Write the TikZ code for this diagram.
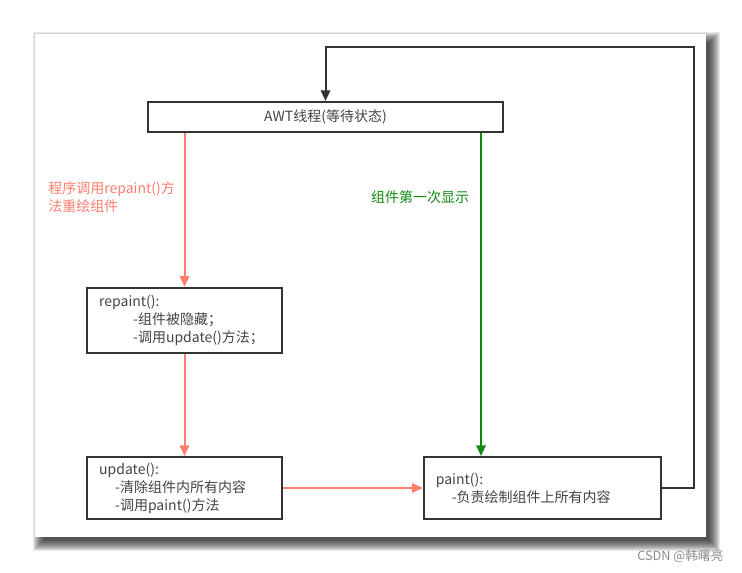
\documentclass[tikz,border=0pt]{standalone}
\usepackage{fontspec}
\setmainfont{Noto Sans CJK SC}
\usepackage{xcolor}
\usetikzlibrary{positioning,arrows.meta,calc}
\definecolor{crojo}{HTML}{FF7F6E}
\definecolor{cverde}{HTML}{118A11}
\definecolor{cnegro}{HTML}{333333}
\definecolor{ctexto}{HTML}{444444}
\tikzset{
  marco/.style={rectangle, draw=cnegro, line width=1.5pt, fill=white, align=left,
    text=ctexto, font=\fontsize{10.5pt}{13.5pt}\selectfont, inner xsep=9pt},
  flechar/.style={-{Triangle[length=8pt,width=7pt]}, line width=1.5pt, draw=crojo},
  flechav/.style={-{Triangle[length=8pt,width=7pt]}, line width=1.5pt, draw=cverde},
  flechan/.style={-{Triangle[length=8pt,width=7pt]}, line width=1.5pt, draw=cnegro},
  etqr/.style={font=\fontsize{10.5pt}{13.5pt}\selectfont, text=crojo, align=left},
  etqv/.style={font=\fontsize{10.5pt}{13.5pt}\selectfont, text=cverde},
}

\begin{document}
\begin{tikzpicture}[x=0.75pt, y=-0.75pt]
  \useasboundingbox (0,0) rectangle (742,572);
  % sombra de la hoja
  \foreach \i in {1,...,12}
    \fill[black, opacity=0.09] ({45-\i},{44-\i}) rectangle ({708+\i},{539+\i});
  \fill[white] (35,34) rectangle (706,537);

  \node[marco, align=center, minimum width=266pt, minimum height=22.5pt] (awt) at (325.5,117) {AWT线程(等待状态)};
  \node[marco, text width=128pt, minimum height=49pt] (repaint) at (184.5,320.5)
    {repaint():\\\hspace*{25.5pt}-组件被隐藏；\\\hspace*{25.5pt}-调用update()方法；};
  \node[marco, text width=128pt, minimum height=46.5pt] (update) at (184.5,488)
    {update():\\\hspace*{12pt}-清除组件内所有内容\\\hspace*{12pt}-调用paint()方法};
  \node[marco, text width=160pt, minimum height=46.5pt] (paint) at (542.5,488)
    {paint():\\\hspace*{12pt}-负责绘制组件上所有内容};

  \node[etqr, anchor=west, inner sep=0pt] (lblrepaint) at (48,197) {程序调用repaint()方\\法重绘组件};
  \node[etqv] (lblprimera) at (420,197) {组件第一次显示};

  \coordinate (bajada) at (481,0);
  \coordinate (giro) at (694,47);

  \draw[flechar] (repaint.north |- awt.south) -- (repaint.north);
  \draw[flechar] (repaint) -- (update);
  \draw[flechar] (update) -- (paint);
  \draw[flechav] (bajada |- awt.south) -- (bajada |- paint.north);
  \draw[flechan] (paint.east) -| (giro) -| (awt.north);

  \node[font=\fontsize{9.5pt}{11pt}\selectfont, text=black!45, anchor=east] (marca) at (728,556) {CSDN @韩曙亮};
\end{tikzpicture}
\end{document}
